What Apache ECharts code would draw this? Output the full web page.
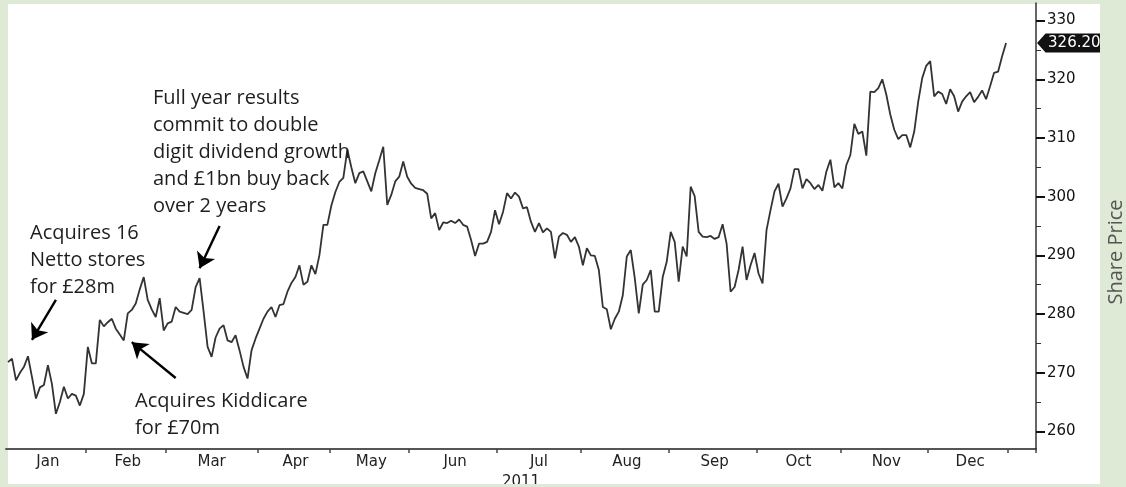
<!DOCTYPE html>
<html>
<head>
<meta charset="utf-8">
<script src="https://cdn.jsdelivr.net/npm/echarts@6/dist/echarts.min.js"></script>
<style>
html,body{margin:0;padding:0;background:#dee9d6;}
#chart{width:1126px;height:487px;}
</style>
</head>
<body>
<div id="chart"></div>
<script>
// ---- data (daily closing share price, 2011, trading days per month) ----
const months = ['Jan','Feb','Mar','Apr','May','Jun','Jul','Aug','Sep','Oct','Nov','Dec'];
const jan = [271.8,272.4,268.7,270.0,271.0,272.8,269.3,265.6,267.5,267.9,271.3,268.1,263.0,265.0,267.6,265.6,266.4,266.1,264.4,266.4];
const feb = [274.4,271.6,271.6,279.0,277.9,278.6,279.2,277.5,276.5,275.5,280.1,280.7,281.8,284.2,286.3,282.4,280.8,279.5,282.7,277.2];
const mar = [278.4,278.7,281.2,280.4,280.2,280.0,280.7,284.6,286.1,280.4,274.4,272.7,276.0,277.5,278.1,275.5,275.2,276.4,273.8,271.0,269.0,273.8,275.8];
const apr = [277.5,279.2,280.4,281.2,279.5,281.5,281.7,283.8,285.3,286.3,288.3,285.0,285.5,288.3,286.8,290.0,295.2,295.2];
const may = [298.5,300.8,302.5,303.2,308.0,305.0,302.3,304.0,304.3,302.6,300.9,304.0,306.2,308.5,298.6,300.3,302.6,303.4,306.0,303.4];
const jun = [302.2,301.5,301.3,301.1,300.5,296.3,297.2,294.3,295.6,295.5,295.9,295.5,296.1,295.2,294.9,292.6,289.9,292.0,292.0,292.3,294.0,297.7];
const jul = [295.3,297.4,300.6,299.7,300.7,300.0,298.0,298.2,295.7,294.0,295.5,293.9,294.6,294.0,289.5,293.2,293.8,293.5,292.3,293.1,291.5];
const aug = [288.3,291.2,290.0,289.9,287.5,281.2,280.8,277.4,279.2,280.4,283.2,289.8,290.9,286.1,280.1,285.0,285.8,287.5,280.4,280.4,286.3,288.9];
const sep = [294.0,292.3,285.5,291.5,289.8,301.7,300.1,294.0,293.2,293.1,293.3,292.8,293.1,295.3,292.0,283.8,284.6,287.5,291.5,285.8,288.3,290.4];
const oct = [286.9,285.2,294.3,297.7,300.9,302.2,298.3,299.7,301.4,304.7,304.7,301.4,303.0,302.3,301.3,302.0,301.0,304.3,306.3,301.6,302.3];
const nov = [301.4,305.4,307.1,312.4,310.7,311.1,307.0,317.9,317.8,318.5,320.0,317.4,314.0,311.4,309.8,310.5,310.5,308.4,311.1,316.2,320.2,322.3];
const dec = [323.1,317.1,317.9,317.5,315.8,318.3,317.1,314.5,316.2,317.1,317.8,316.1,317.0,318.1,316.6,318.8,321.1,321.3,323.9,326.2];
const yMajorTicks = [260,270,280,290,300,310,320,330];
const yMinorTicks = [265,275,285,295,305,315,325];
const yearLabel = '2011';
const axisTitle = 'Share Price';
const padDays = 7; // empty days of early Jan 2012 at the right end of the axis

// annotations: text, arrow tail (day index, price), arrow head (day index, price)
const notes = [
  {text:'Acquires 16\nNetto stores\nfor £28m', tail:[12,282.4], head:[6,275.6]},
  {text:'Acquires Kiddicare\nfor £70m', tail:[42,269.1], head:[31,275.2]},
  {text:'Full year results\ncommit to double\ndigit dividend growth\nand £1bn buy back\nover 2 years', tail:[53,295.0], head:[48,287.8]}
];

// ---- build series & axis helpers ----
const monthValues = [jan,feb,mar,apr,may,jun,jul,aug,sep,oct,nov,dec];
const values = [];
const categories = [];
const tickIdx = new Set();
const labelIdx = {};
let idx = 0;
monthValues.forEach((arr, m) => {
  if (idx > 0) tickIdx.add(idx);
  labelIdx[idx + Math.floor(arr.length / 2)] = months[m];
  arr.forEach((v, d) => { values.push(v); categories.push(months[m] + ' day ' + (d + 1)); });
  idx += arr.length;
});
tickIdx.add(idx);
for (let k = 0; k < padDays; k++) { categories.push('2012 day ' + (k + 1)); values.push(null); }
const lastIdx = idx - 1;
const lastVal = dec[dec.length - 1];

const GREEN = '#dee9d6';
const chart = echarts.init(document.getElementById('chart'), null, {renderer:'canvas'});
const noteStyle = {font:'20px "Open Sans"', fill:'#1e1e1e', lineHeight:27};
const notePos = [[30,220],[135,388],[153,85]];

chart.setOption({
  animation:false,
  backgroundColor:GREEN,
  grid:{left:6, right:90, top:3, bottom:38, containLabel:false, outerBoundsMode:'none'},
  xAxis:{
    type:'category', data:categories, boundaryGap:true, z:0,
    axisLine:{show:true, lineStyle:{color:'#555', width:2}},
    axisTick:{show:true, length:4, interval:(i)=>tickIdx.has(i), lineStyle:{color:'#444', width:1.5}},
    axisLabel:{show:true, interval:(i)=>labelIdx[i]!==undefined, formatter:(v,i)=>labelIdx[i]||'',
      color:'#222', fontSize:15, fontFamily:'DejaVu Sans', margin:6},
    splitLine:{show:false},
    name:yearLabel, nameLocation:'middle', nameGap:23,
    nameTextStyle:{color:'#222', fontSize:15, fontFamily:'DejaVu Sans'}
  },
  yAxis:[{
    type:'value', position:'right', min:257, max:333, z:10,
    axisLine:{show:true, lineStyle:{color:'#333', width:1.5}},
    axisTick:{show:true, length:9, customValues:yMajorTicks, lineStyle:{color:'#111', width:2}},
    axisLabel:{show:true, customValues:yMajorTicks, margin:11, color:'#111', fontSize:15, fontFamily:'DejaVu Sans'},
    splitLine:{show:false}
  },{
    type:'value', position:'right', min:257, max:333, z:10,
    axisLine:{show:false},
    axisTick:{show:true, length:5, customValues:yMinorTicks, lineStyle:{color:'#333', width:1}},
    axisLabel:{show:false}, splitLine:{show:false}
  }],
  series:[{
    type:'line', data:values, yAxisIndex:0, showSymbol:false, symbol:'none', connectNulls:false,
    lineStyle:{color:'#333', width:1.8}, z:2,
    markLine:{
      silent:true, symbol:['none','arrow'], symbolSize:15, precision:2,
      lineStyle:{color:'#000', width:2.4, type:'solid'}, itemStyle:{color:'#000'},
      label:{show:false}, emphasis:{disabled:true},
      data:notes.map(n=>[{coord:n.tail},{coord:n.head}])
    },
    markPoint:{
      silent:true,
      symbol:'path://M0,10 L9,0 L70,0 L70,20 L9,20 Z', symbolSize:[66,19], symbolOffset:[64,0],
      itemStyle:{color:'#111'},
      label:{show:true, position:'insideLeft', distance:11, color:'#fff', fontSize:15, fontFamily:'DejaVu Sans',
        formatter:(p)=>Number(p.value).toFixed(2)},
      data:[{coord:[lastIdx,lastVal], value:lastVal}]
    }
  }],
  graphic:[
    {type:'rect', z:-1, silent:true, shape:{x:8,y:4,width:1092,height:480}, style:{fill:'#fff'}},
    {type:'rect', z:8, silent:true, shape:{x:1100,y:0,width:26,height:487}, style:{fill:GREEN}},
    {type:'rect', z:8, silent:true, shape:{x:0,y:484,width:1126,height:3}, style:{fill:GREEN}},
    {type:'text', z:12, silent:true, x:1116, y:252, rotation:Math.PI/2,
      style:{text:axisTitle, font:'20px "Open Sans"', fill:'#555', align:'center', verticalAlign:'middle'}},
    ...notes.map((n,k)=>({type:'text', z:12, silent:true, x:notePos[k][0], y:notePos[k][1],
      style:Object.assign({text:n.text, align:'left', verticalAlign:'top'}, noteStyle)}))
  ]
});
</script>
</body>
</html>
